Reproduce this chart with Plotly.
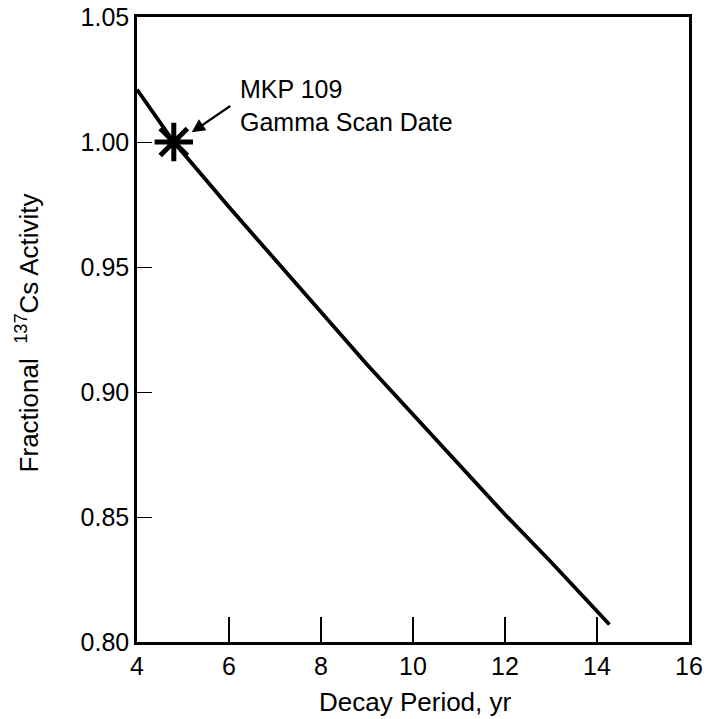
import plotly.graph_objects as go

# Data
decay_years = [4.0, 4.8, 6.0, 7.0, 8.0, 9.0, 10.0, 11.0, 12.0, 13.0, 14.27]
activity = [1.021, 1.000, 0.974, 0.953, 0.932, 0.911, 0.891, 0.871, 0.851, 0.832, 0.807]

scan_x = [4.8]
scan_y = [1.000]

x_ticks = [4, 6, 8, 10, 12, 14, 16]
y_ticks = [0.80, 0.85, 0.90, 0.95, 1.00, 1.05]
y_tick_text = ["0.80", "0.85", "0.90", "0.95", "1.00", "1.05"]

FONT = "Liberation Sans, Arial, Helvetica, sans-serif"

fig = go.Figure()
fig.add_trace(go.Scatter(x=decay_years, y=activity, mode="lines",
                         line=dict(color="black", width=3.8), showlegend=False))
fig.add_trace(go.Scatter(x=scan_x, y=scan_y, mode="markers",
                         marker=dict(symbol="asterisk-open", size=32, color="black",
                                     line=dict(color="black", width=5)),
                         showlegend=False))

fig.update_layout(
    width=707, height=719,
    margin=dict(l=137, r=18, t=17, b=77),
    paper_bgcolor="white", plot_bgcolor="white",
    font=dict(family=FONT, size=24, color="black"),
    xaxis=dict(range=[4, 16], tickvals=x_ticks, ticks="inside", ticklen=25,
               tickwidth=1.5, tickcolor="black", showline=True, linecolor="black",
               linewidth=2.5, mirror=True, showgrid=False, zeroline=False,
               automargin=False, ticklabeloverflow="allow",
               tickfont=dict(size=25)),
    yaxis=dict(range=[0.80, 1.05], tickvals=y_ticks, ticktext=y_tick_text,
               ticks="inside", ticklen=15, tickwidth=1, tickcolor="black",
               showline=True, linecolor="black", linewidth=2.5, mirror=True,
               showgrid=False, zeroline=False, automargin=False,
               tickfont=dict(size=25)),
    annotations=[
        dict(text="MKP 109", x=6.196, y=1.0212, xref="x", yref="y",
             xanchor="left", yanchor="middle", showarrow=False,
             font=dict(size=25)),
        dict(text="Gamma Scan Date", x=6.196, y=1.0080, xref="x", yref="y",
             xanchor="left", yanchor="middle", showarrow=False,
             font=dict(size=25)),
        dict(text="", x=5.19, y=1.0039, ax=6.06, ay=1.0148,
             xref="x", yref="y", axref="x", ayref="y", showarrow=True,
             arrowhead=2, arrowsize=1.2, arrowwidth=2.2, arrowcolor="black"),
        dict(text="Fractional  <sup>137</sup>Cs Activity", x=-0.199, y=0.494,
             xref="paper", yref="paper", textangle=-90, showarrow=False,
             xanchor="center", yanchor="middle", font=dict(size=26)),
        dict(text="Decay Period, yr", x=0.504, y=-0.096, xref="paper",
             yref="paper", showarrow=False, xanchor="center", yanchor="middle",
             font=dict(size=26)),
    ],
)

fig.write_html("out.html", config={"displayModeBar": False},
               post_script="document.body.style.margin='0';document.body.style.overflow='hidden';")
